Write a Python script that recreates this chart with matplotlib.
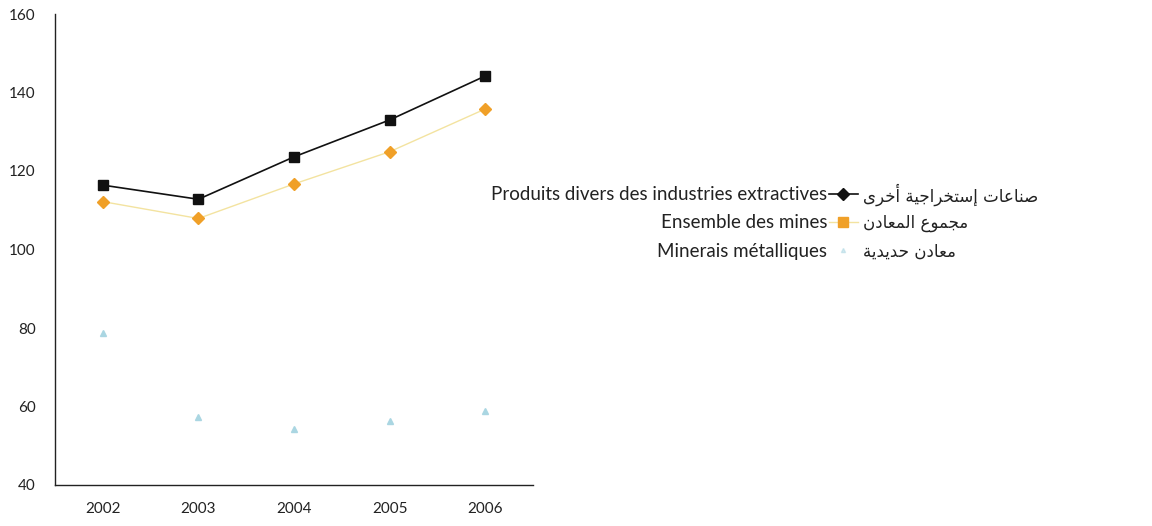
import matplotlib
matplotlib.use("Agg")
import matplotlib.pyplot as plt
from matplotlib.lines import Line2D

years = [2002, 2003, 2004, 2005, 2006]
divers = [116.4, 112.8, 123.6, 133.0, 144.2]
ensemble = [112.2, 107.9, 116.7, 124.9, 135.8]
minerais = [78.6, 57.2, 54.3, 56.3, 58.9]
yticks = [40, 60, 80, 100, 120, 140, 160]

labels_fr = ["Produits divers des industries extractives",
             "Ensemble des mines",
             "Minerais métalliques"]
# Arabic labels in visual order using presentation forms (no shaping engine)
def visual(s):
    return s[::-1]
labels_ar = [
    visual("\uFEBB\uFEE8\uFE8E\uFECB\uFE8E\uFE95 \uFE87\uFEB3\uFE98\uFEA8\uFEAE\uFE8D\uFE9F\uFEF4\uFE94 \uFE83\uFEA7\uFEAE\uFEEF"),
    visual("\uFEE3\uFEA0\uFEE4\uFEEE\uFEC9 \uFE8D\uFEDF\uFEE4\uFECC\uFE8E\uFEA9\uFEE5"),
    visual("\uFEE3\uFECC\uFE8E\uFEA9\uFEE5 \uFEA3\uFEAA\uFEF3\uFEAA\uFEF3\uFE94"),
]

fam = ["Lato", "DejaVu Sans"]
plt.rcParams["font.family"] = fam

W, H = 1152, 526
fig = plt.figure(figsize=(W / 100, H / 100), dpi=100)
ax = fig.add_axes([55 / W, 1 - 485 / H, (533 - 55) / W, (485 - 14) / H])

black = "#111111"
orange = "#f0a028"
pale = "#f3e3a0"
blue = "#aad6e2"

ax.plot(years, divers, color=black, lw=1.2, marker="s", ms=7.5, mfc=black, mec=black, zorder=4)
ax.plot(years, ensemble, color=pale, lw=1.0, marker="D", ms=6.5, mfc=orange, mec=orange, zorder=3)
ax.plot(years, minerais, color=blue, lw=0, marker="^", ms=5, mfc=blue, mec=blue, zorder=3)

ax.set_xlim(2001.5, 2006.5)
ax.set_ylim(40, 160)
ax.set_yticks(yticks)
ax.set_xticks(years)
ax.tick_params(length=0, labelsize=11, colors="#222222")
ax.tick_params(axis="y", pad=14)
ax.tick_params(axis="x", pad=12)
for s in ["top", "right"]:
    ax.spines[s].set_visible(False)
for s in ["left", "bottom"]:
    ax.spines[s].set_linewidth(1.0)
    ax.spines[s].set_color("#222222")

handles = [
    Line2D([], [], color=black, lw=1.2, marker="D", ms=6, mfc=black, mec=black),
    Line2D([], [], color=pale, lw=1.0, marker="s", ms=6.5, mfc=orange, mec=orange),
    Line2D([], [], color=blue, lw=0, marker="^", ms=3, mfc=blue, mec=blue, alpha=0.5),
]
leg = fig.legend(handles, labels_fr, loc="center right", markerfirst=False,
                 bbox_to_anchor=(858 / W, 1 - 223 / H), frameon=False,
                 fontsize=13.5, handlelength=1.55, handletextpad=0.1,
                 labelspacing=0.6, borderpad=0, borderaxespad=0)
for t in leg.get_texts():
    t.set_color("#222222")

fig.canvas.draw()
inv = fig.transFigure.inverted()
for t, lab in zip(leg.get_texts(), labels_ar):
    bb = t.get_window_extent()
    yc = (bb.y0 + bb.y1) / 2
    fig.text(863 / W, inv.transform((0, yc))[1], lab, ha="left", va="center",
             fontsize=12, color="#222222", family=["DejaVu Sans"])

fig.savefig("out.png", dpi=100)
